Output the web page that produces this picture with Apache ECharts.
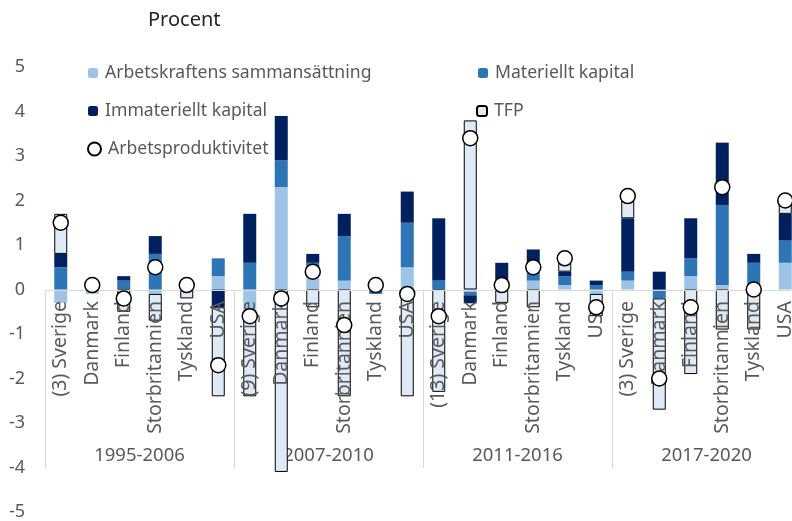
<!DOCTYPE html>
<html>
<head>
<meta charset="utf-8">
<script src="https://cdn.jsdelivr.net/npm/echarts@6/dist/echarts.min.js"></script>
<style>
  html, body { margin: 0; padding: 0; background: #fff; }
  #chart { width: 792px; height: 521px; }
</style>
</head>
<body>
<div id="chart"></div>
<script>
// kategorier (land per period)
const countries = [
  '(3) Sverige', 'Danmark', 'Finland', 'Storbritannien', 'Tyskland', 'USA',
  '(9) Sverige', 'Danmark', 'Finland', 'Storbritannien', 'Tyskland', 'USA',
  '(13) Sverige', 'Danmark', 'Finland', 'Storbritannien', 'Tyskland', 'USA',
  '(3) Sverige', 'Danmark', 'Finland', 'Storbritannien', 'Tyskland', 'USA'
]
const periods = ['1995-2006', '2007-2010', '2011-2016', '2017-2020']

// bidrag, procentenheter
const arbetskraft = [
  -0.3, -0.1, 0, -0.1, 0.1, 0.3,
  -0.5, 2.3, 0.3, 0.2, 0.1, 0.5,
  0, -0.05, 0, 0.2, 0.1, -0.1,
  0.2, 0, 0.3, 0.1, 0, 0.6
]
const materiellt = [
  0.5, 0.1, 0.2, 0.8, 0.05, 0.4,
  0.6, 0.6, 0.3, 1.0, -0.1, 1.0,
  0.2, -0.08, 0, 0.2, 0.2, 0.1,
  0.2, -0.2, 0.4, 1.8, 0.6, 0.5
]
const immateriellt = [
  0.3, 0, 0.1, 0.4, 0.05, -0.4,
  1.1, 1.0, 0.2, 0.5, 0, 0.7,
  1.4, -0.18, 0.6, 0.5, 0.1, 0.1,
  1.2, 0.4, 0.9, 1.4, 0.2, 0.6
]
const tfp = [
  0.9, 0.05, -0.5, -0.6, -0.2, -2.0,
  -1.9, -4.1, -0.4, -2.4, 0.1, -2.4,
  -2.3, 3.8, -0.3, -0.4, 0.2, -0.5,
  0.4, -2.5, -1.9, -0.9, -0.9, 0.3
]
const produktivitet = [
  1.5, 0.1, -0.2, 0.5, 0.1, -1.7,
  -0.6, -0.2, 0.4, -0.8, 0.1, -0.1,
  -0.6, 3.4, 0.1, 0.5, 0.7, -0.4,
  2.1, -2.0, -0.4, 2.3, 0.0, 2.0
]

const font = 'Noto Sans'
const grey = '#595959'

let chart = echarts.init(document.getElementById('chart'))

function legendItem(name, left, top, icon) {
  return {
    left, top,
    padding: 0,
    data: [icon ? { name, icon } : name],
    itemWidth: icon ? 13 : 10,
    itemHeight: icon ? 13 : 10,
    itemGap: 0,
    selectedMode: false,
    textStyle: { color: grey, fontFamily: font, fontSize: 17.6, padding: [0, 0, 0, 2] }
  }
}

let barBase = {
  type: 'bar',
  stack: 'total',
  barWidth: 13,
  xAxisIndex: 0
}

let option = {
  animation: false,
  title: {
    text: 'Procent',
    left: 143,
    top: 5,
    textStyle: { color: '#262626', fontFamily: font, fontSize: 20, fontWeight: 'normal' }
  },
  legend: [
    legendItem('Arbetskraftens sammansättning', 88, 64),
    legendItem('Materiellt kapital', 478, 64),
    legendItem('Immateriellt kapital', 88, 102),
    legendItem('TFP', 476, 102),
    legendItem('Arbetsproduktivitet', 87, 140, 'circle')
  ],
  grid: { left: 45, top: 67, width: 756, height: 445, outerBoundsMode: 'none', containLabel: false },
  xAxis: [
    {
      type: 'category',
      data: countries,
      position: 'bottom',
      offset: -222,
      z: 10,
      axisLine: { onZero: false, lineStyle: { color: '#D9D9D9', width: 1 } },
      axisTick: { show: false },
      axisLabel: {
        interval: 0, rotate: 90, margin: 11,
        color: grey, fontFamily: font, fontSize: 19.5
      }
    },
    {
      type: 'category',
      data: periods,
      position: 'bottom',
      offset: -44,
      axisLine: { onZero: false, show: false },
      axisTick: { show: true, inside: true, length: 178, lineStyle: { color: '#D9D9D9' } },
      axisLabel: {
        inside: true, margin: 3,
        color: grey, fontFamily: font, fontSize: 18.5
      }
    }
  ],
  yAxis: {
    type: 'value',
    min: -5, max: 5, interval: 1,
    axisLine: { show: false },
    axisTick: { show: false },
    splitLine: { show: false },
    axisLabel: { margin: 20, color: grey, fontFamily: font, fontSize: 18 }
  },
  series: [
    Object.assign({}, barBase, { name: 'Arbetskraftens sammansättning', data: arbetskraft, itemStyle: { color: '#9DC3E6' } }),
    Object.assign({}, barBase, { name: 'Materiellt kapital', data: materiellt, itemStyle: { color: '#2E75B6' } }),
    Object.assign({}, barBase, { name: 'Immateriellt kapital', data: immateriellt, itemStyle: { color: '#002060' } }),
    Object.assign({}, barBase, { name: 'TFP', data: tfp, itemStyle: { color: '#DEEBF7', borderColor: '#000', borderWidth: 1 } }),
    {
      name: 'Arbetsproduktivitet',
      type: 'scatter',
      data: produktivitet,
      symbol: 'circle',
      symbolSize: 15,
      z: 12,
      itemStyle: { color: '#fff', borderColor: '#000', borderWidth: 1.5, opacity: 1 }
    }
  ]
}

chart.setOption(option)
</script>
</body>
</html>
